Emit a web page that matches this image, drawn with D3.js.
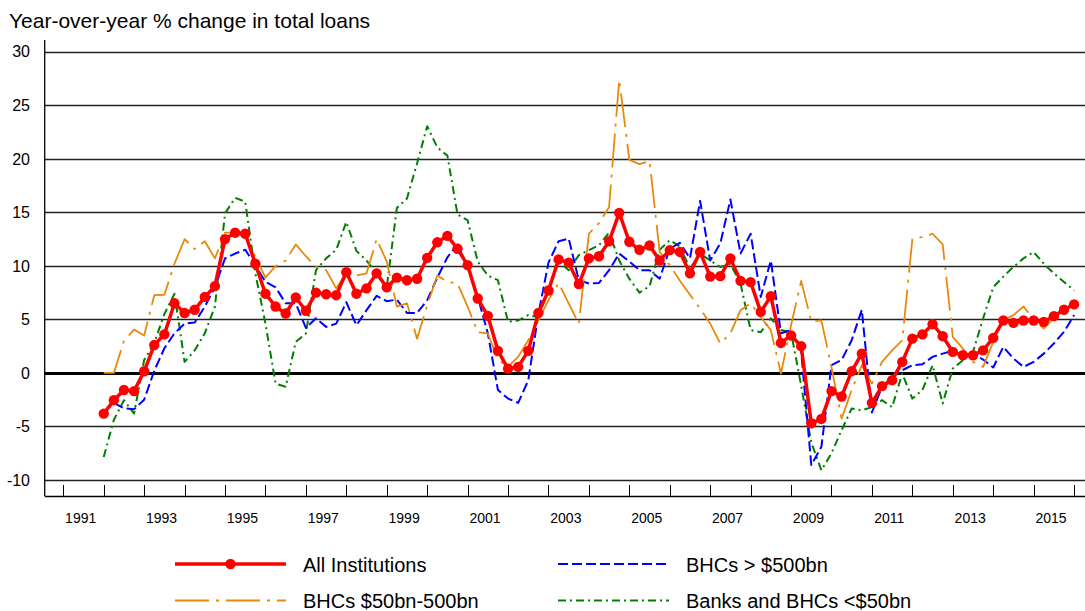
<!DOCTYPE html>
<html>
<head>
<meta charset="utf-8">
<script src="https://cdn.jsdelivr.net/npm/d3@7/dist/d3.min.js"></script>
<style>
  html, body { margin: 0; padding: 0; background: #fff; }
  svg { display: block; font-family: "Liberation Sans", Arial, Helvetica, sans-serif; }
</style>
</head>
<body>
<svg id="chart" width="1085" height="611"></svg>
<script>
// Quarterly observations, 1991Q4 to 2015Q4
const quarters = [
  "1991Q4",
  "1992Q1","1992Q2","1992Q3","1992Q4","1993Q1","1993Q2","1993Q3","1993Q4",
  "1994Q1","1994Q2","1994Q3","1994Q4","1995Q1","1995Q2","1995Q3","1995Q4",
  "1996Q1","1996Q2","1996Q3","1996Q4","1997Q1","1997Q2","1997Q3","1997Q4",
  "1998Q1","1998Q2","1998Q3","1998Q4","1999Q1","1999Q2","1999Q3","1999Q4",
  "2000Q1","2000Q2","2000Q3","2000Q4","2001Q1","2001Q2","2001Q3","2001Q4",
  "2002Q1","2002Q2","2002Q3","2002Q4","2003Q1","2003Q2","2003Q3","2003Q4",
  "2004Q1","2004Q2","2004Q3","2004Q4","2005Q1","2005Q2","2005Q3","2005Q4",
  "2006Q1","2006Q2","2006Q3","2006Q4","2007Q1","2007Q2","2007Q3","2007Q4",
  "2008Q1","2008Q2","2008Q3","2008Q4","2009Q1","2009Q2","2009Q3","2009Q4",
  "2010Q1","2010Q2","2010Q3","2010Q4","2011Q1","2011Q2","2011Q3","2011Q4",
  "2012Q1","2012Q2","2012Q3","2012Q4","2013Q1","2013Q2","2013Q3","2013Q4",
  "2014Q1","2014Q2","2014Q3","2014Q4","2015Q1","2015Q2","2015Q3","2015Q4"
];

// Year-over-year % change in total loans
const allInstitutions = [
  -3.8,
  -2.55, -1.6, -1.7, 0.15, 2.6, 3.6, 6.5, 5.6,
  5.9, 7.1, 8.1, 12.5, 13.1, 13.0, 10.2, 7.4,
  6.2, 5.55, 7.05, 5.8, 7.5, 7.35, 7.26, 9.4,
  7.4, 7.9, 9.3, 8.0, 8.9, 8.66, 8.8, 10.75,
  12.2, 12.8, 11.6, 10.07, 6.95, 5.33, 2.06, 0.4,
  0.56, 2.06, 5.6, 7.7, 10.6, 10.3, 8.3, 10.7,
  10.9, 12.3, 14.95, 12.25, 11.5, 11.9, 10.5, 11.47,
  11.3, 9.3, 11.3, 9.0, 9.04, 10.7, 8.6, 8.48,
  5.7, 7.17, 2.8, 3.5, 2.5, -4.7, -4.3, -1.7,
  -2.2, 0.16, 1.8, -2.8, -1.24, -0.68, 1.03, 3.2,
  3.6, 4.55, 3.43, 1.96, 1.65, 1.65, 2.1, 3.27,
  4.9, 4.67, 4.9, 4.9, 4.77, 5.3, 5.9, 6.4
];

const bhcOver500 = [
  -3.7,
  -2.8, -3.3, -3.4, -2.5, 0.2, 2.3, 3.7, 4.6,
  4.7, 6.2, 8.0, 10.7, 11.15, 11.5, 10.07, 8.5,
  8.0, 6.5, 6.5, 4.2, 5.1, 4.3, 4.6, 6.6,
  4.45, 5.86, 7.2, 6.7, 6.85, 5.6, 5.6, 6.8,
  8.9, 10.8, 12.0, 9.9, 7.1, 3.7, -1.6, -2.4,
  -2.8, -0.7, 5.5, 10.3, 12.3, 12.55, 8.66, 8.35,
  8.4, 9.6, 11.15, 10.4, 9.6, 9.6, 8.8, 11.6,
  12.15, 10.7, 16.07, 10.5, 12.1, 16.2, 11.15, 13.0,
  7.1, 10.5, 3.7, 4.0, 2.0, -8.6, -6.9, 0.72,
  1.2, 3.05, 5.9, -3.7, -1.3, -0.37, 0.25, 0.72,
  0.81, 1.5, 1.8, 2.06, 1.65, 1.8, 1.25, 0.5,
  2.43, 1.34, 0.56, 1.03, 1.8, 2.75, 3.83, 5.4
];

const bhc50to500 = [
  0.0,
  0.0, 3.0, 4.05, 3.5, 7.26, 7.3, 10.2, 12.5,
  11.56, 12.3, 10.7, 13.1, 13.1, 12.7, 10.85, 8.9,
  9.97, 10.5, 12.0, 10.9, 9.9, 9.6, 7.9, 9.3,
  9.1, 9.3, 12.5, 10.4, 6.2, 6.5, 3.2, 6.3,
  9.1, 8.5, 8.35, 6.2, 3.8, 3.7, 1.2, 0.6,
  1.5, 3.05, 4.9, 6.8, 8.4, 6.5, 4.6, 13.0,
  14.0, 15.5, 27.4, 19.9, 19.5, 19.8, 11.3, 10.07,
  8.6, 7.3, 6.0, 4.6, 2.75, 3.7, 5.86, 6.5,
  5.2, 4.0, -0.06, 4.45, 8.6, 4.8, 4.9, 0.5,
  -4.27, -1.6, 0.72, -1.0, 1.03, 2.1, 3.05, 12.5,
  12.7, 13.0, 12.0, 3.36, 2.27, 1.03, 0.56, 2.9,
  4.9, 5.4, 6.2, 5.0, 4.15, 5.1, 6.0, 6.5
];

const banksUnder50 = [
  -7.85,
  -4.4, -2.55, -3.8, 1.2, 2.8, 5.5, 7.4, 1.03,
  2.1, 3.7, 6.2, 14.9, 16.35, 16.0, 9.3, 4.6,
  -1.0, -1.3, 2.9, 3.68, 9.6, 10.7, 11.5, 14.1,
  11.4, 10.5, 9.3, 8.0, 15.4, 16.3, 19.57, 23.05,
  21.07, 20.3, 14.8, 14.27, 10.4, 9.1, 8.66, 4.77,
  4.9, 5.4, 5.2, 7.9, 10.4, 9.6, 11.0, 11.47,
  11.93, 13.1, 10.5, 8.8, 7.5, 8.1, 11.5, 12.4,
  11.8, 9.75, 11.15, 10.5, 9.9, 10.16, 8.35, 4.0,
  3.8, 5.1, 4.0, 3.8, -1.2, -6.5, -9.1, -7.5,
  -5.35, -3.33, -3.5, -3.2, -2.55, -3.2, -0.06, -2.4,
  -1.6, 0.72, -2.86, 0.41, 1.19, 1.96, 5.08, 8.0,
  9.0, 9.9, 10.7, 11.3, 10.2, 9.3, 8.5, 7.7
];

const yearTicks = d3.range(1991, 2017);
const yearLabels = ["1991","1993","1995","1997","1999","2001","2003","2005","2007","2009","2011","2013","2015"];
const yTicks = [-10, -5, 0, 5, 10, 15, 20, 25, 30];

const seriesNames = ["All Institutions", "BHCs > $500bn", "BHCs $50bn-500bn", "Banks and BHCs <$50bn"];

// Quarter label -> fractional year at the end of that quarter
const quarterPos = q => +q.slice(0, 4) + (+q.slice(5)) / 4;

const svg = d3.select("#chart");

const x = d3.scaleLinear().domain([1990.54, 2016.27]).range([44.7, 1085]);
const y = d3.scaleLinear().domain([-11.5, 31.1]).range([496, 40]);

// Horizontal gridlines
svg.append("g")
  .selectAll("line")
  .data(yTicks)
  .join("line")
  .attr("x1", x.range()[0]).attr("x2", x.range()[1])
  .attr("y1", d => Math.round(y(d)) + 0.5).attr("y2", d => Math.round(y(d)) + 0.5)
  .attr("stroke", d => d === 0 ? "#000" : "#222")
  .attr("stroke-width", d => d === 0 ? 3 : 1.3);

// Y axis labels
svg.append("g")
  .selectAll("text")
  .data(yTicks)
  .join("text")
  .attr("x", 30)
  .attr("y", d => y(d) + 1.5)
  .attr("text-anchor", "end")
  .attr("dominant-baseline", "middle")
  .attr("font-size", 16)
  .attr("fill", "#000")
  .text(d => d);

// Left axis line
svg.append("line")
  .attr("x1", 44.7).attr("x2", 44.7)
  .attr("y1", 40).attr("y2", 496)
  .attr("stroke", "#000").attr("stroke-width", 1.3);

// Bottom axis with upward year ticks
svg.append("line")
  .attr("x1", 44.7).attr("x2", 1085)
  .attr("y1", 496.5).attr("y2", 496.5)
  .attr("stroke", "#000").attr("stroke-width", 1.3);

svg.append("g")
  .selectAll("line")
  .data(yearTicks)
  .join("line")
  .attr("x1", d => Math.round(x(d)) + 0.5).attr("x2", d => Math.round(x(d)) + 0.5)
  .attr("y1", 485).attr("y2", 496)
  .attr("stroke", "#000").attr("stroke-width", 1);

svg.append("g")
  .selectAll("text")
  .data(yearLabels)
  .join("text")
  .attr("x", d => x(+d + 0.43))
  .attr("y", 522.5)
  .attr("text-anchor", "middle")
  .attr("font-size", 14)
  .attr("fill", "#000")
  .text(d => d);

// Title
svg.append("text")
  .attr("x", 9).attr("y", 28)
  .attr("font-size", 21)
  .attr("fill", "#000")
  .text("Year-over-year % change in total loans");

const styles = [
  { values: allInstitutions, color: "#FF0000", width: 3.5, dash: null, markers: true },
  { values: bhcOver500, color: "#0000FF", width: 2, dash: "10,4", markers: false },
  { values: bhc50to500, color: "#E8890C", width: 1.8, dash: "34,7,3,7", markers: false },
  { values: banksUnder50, color: "#008000", width: 2, dash: "8,4,2,4", markers: false }
];

const line = vals => d3.line()
  .x((d, i) => x(quarterPos(quarters[i])))
  .y(d => y(d))(vals);

// Draw order: green, blue, orange beneath; red with markers on top
const drawOrder = [3, 1, 2, 0];
drawOrder.forEach(k => {
  const s = styles[k];
  svg.append("path")
    .attr("d", line(s.values))
    .attr("fill", "none")
    .attr("stroke", s.color)
    .attr("stroke-width", s.width)
    .attr("stroke-dasharray", s.dash)
    .attr("stroke-linejoin", "round");
  if (s.markers) {
    svg.append("g")
      .selectAll("circle")
      .data(s.values)
      .join("circle")
      .attr("cx", (d, i) => x(quarterPos(quarters[i])))
      .attr("cy", d => y(d))
      .attr("r", 5.2)
      .attr("fill", s.color);
  }
});

// Legend
const legendPos = [
  { lx: 175, tx: 303, ly: 564, ty: 571.5 },
  { lx: 558, tx: 686, ly: 564, ty: 571.5 },
  { lx: 175, tx: 303, ly: 600.5, ty: 608 },
  { lx: 558, tx: 686, ly: 600.5, ty: 608 }
];
const legend = svg.append("g");
seriesNames.forEach((name, k) => {
  const s = styles[k], p = legendPos[k];
  legend.append("line")
    .attr("x1", p.lx).attr("x2", p.lx + 111)
    .attr("y1", p.ly).attr("y2", p.ly)
    .attr("stroke", s.color)
    .attr("stroke-width", s.width)
    .attr("stroke-dasharray", s.dash);
  if (s.markers) {
    legend.append("circle")
      .attr("cx", p.lx + 55.5).attr("cy", p.ly)
      .attr("r", 5.2).attr("fill", s.color);
  }
  legend.append("text")
    .attr("x", p.tx).attr("y", p.ty)
    .attr("font-size", 20)
    .attr("fill", "#000")
    .text(name);
});
</script>
</body>
</html>
